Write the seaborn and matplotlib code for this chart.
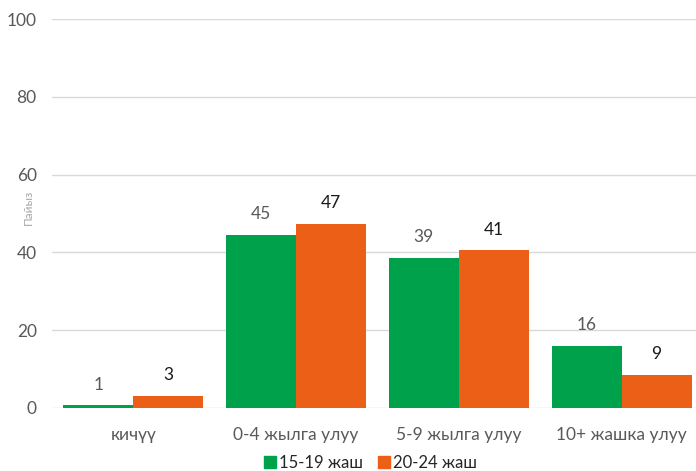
import matplotlib
matplotlib.use("Agg")
import matplotlib.pyplot as plt
import seaborn as sns
import pandas as pd
from matplotlib.lines import Line2D

categories = ["кичүү", "0-4 жылга улуу", "5-9 жылга улуу", "10+ жашка улуу"]
series_names = ["15-19 жаш", "20-24 жаш"]
values_15_19 = [0.7, 44.6, 38.6, 16.0]
values_20_24 = [3.1, 47.4, 40.6, 8.6]
colors = ["#00a14b", "#ec5f17"]
yticks = [0, 20, 40, 60, 80, 100]

df = pd.DataFrame({
    "cat": categories * 2,
    "series": [series_names[0]] * 4 + [series_names[1]] * 4,
    "val": values_15_19 + values_20_24,
})

sns.set_style("white")
plt.rcParams["font.family"] = ["Lato", "DejaVu Sans"]

fig = plt.figure(figsize=(6.96, 4.71), dpi=100)
ax = fig.add_axes([52 / 696, 1 - 408 / 471, 651 / 696, (408 - 19) / 471])

sns.barplot(data=df, x="cat", y="val", hue="series", palette=colors,
            width=0.86, ax=ax, legend=False, saturation=1, linewidth=0)

label_colors = ["#595959", "#1a1a1a"]
for cont, lc in zip(ax.containers, label_colors):
    ax.bar_label(cont, labels=[f"{b.get_height():.0f}" for b in cont],
                 padding=9, fontsize=12.5, color=lc)

ax.set_ylim(0, 100)
ax.set_xlim(-0.5, 3.5)
ax.set_yticks(yticks)
ax.yaxis.grid(True, color="#d9d9d9", linewidth=1)
ax.set_axisbelow(True)
for s in ax.spines.values():
    s.set_visible(False)
ax.tick_params(axis="y", length=0, pad=11, labelsize=12.5, labelcolor="#595959")
ax.tick_params(axis="x", length=0, pad=14, labelsize=12.5, labelcolor="#595959")
ax.set_xlabel("")
ax.set_ylabel("")
fig.text(28 / 696, 1 - 207 / 471, "Пайыз", rotation=90, ha="center", va="center",
         fontsize=8.5, color="#a6a6a6")

handles = [Line2D([0], [0], marker="s", linestyle="", markersize=8.5,
                  markerfacecolor=c, markeredgecolor=c) for c in colors]
fig.legend(handles, series_names, loc="center", bbox_to_anchor=(370 / 696, 1 - 463 / 471),
           ncol=2, frameon=False, fontsize=12, handletextpad=0.1, columnspacing=0.9,
           handlelength=0.8)

fig.savefig("out.png", dpi=100)
